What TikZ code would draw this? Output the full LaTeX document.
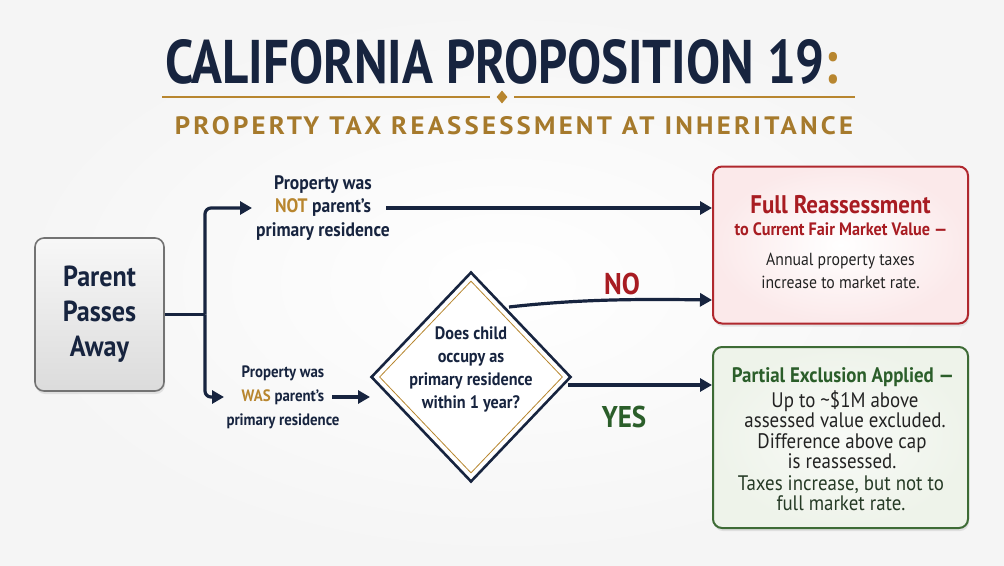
\documentclass[tikz,border=0pt]{standalone}
\usepackage{fontspec}
\setmainfont{PT Sans}[FakeStretch=0.9]
\newfontfamily\titlefont{PT Sans}
\usetikzlibrary{arrows.meta,shapes.geometric,shadows}
\definecolor{navy}{HTML}{17243F}
\definecolor{gold}{HTML}{B8862F}
\definecolor{goldtxt}{HTML}{A67A2C}
\definecolor{redb}{HTML}{B0282E}
\definecolor{redt}{HTML}{A81C22}
\definecolor{redfill}{HTML}{FBE9EA}
\definecolor{grnb}{HTML}{3D6B35}
\definecolor{grnt}{HTML}{2B5E2A}
\definecolor{grnfill}{HTML}{EEF3EA}
\definecolor{bodytxt}{HTML}{222222}
\tikzset{
  arr/.style={draw=navy, line width=3.2pt, -{Triangle[length=12pt,width=13pt]}},
  ln/.style={draw=navy, line width=3.2pt},
  txt/.style={inner sep=0pt, align=center, text=navy, font=\bfseries\fontsize{19.5}{23.5}\selectfont},
  card/.style={rounded corners=9pt, line width=2pt, drop shadow={opacity=0.18, shadow xshift=1pt, shadow yshift=-3pt}},
}
\begin{document}
\begin{tikzpicture}[x=1pt,y=-1pt]
\useasboundingbox (0,0) rectangle (1004,565);
\fill[inner color=white, outer color=black!4] (0,0) rectangle (1004,565);

% title
\node[inner sep=0pt] (title) at (502,62) {\resizebox{673pt}{44pt}{\titlefont\bfseries\color{navy}CALIFORNIA PROPOSITION 19\textcolor{gold}{:}}};
\draw[gold, line width=1.3pt] (162,97) -- (490,97) (514,97) -- (855,97);
\node[diamond, fill=gold, inner sep=0pt, minimum width=11pt, minimum height=13pt] (gem) at (502,97) {};
\node[inner sep=0pt] (subtitle) at (514,126) {\resizebox{678pt}{18pt}{\titlefont\bfseries\addfontfeatures{LetterSpace=12}\color{goldtxt}PROPERTY TAX REASSESSMENT AT INHERITANCE}};

% start box
\node[card, draw=black!55, line width=1.6pt, top color=black!3, bottom color=black!14, minimum width=129pt, minimum height=153pt,
      align=center, text=navy, font=\bfseries\fontsize{29}{35}\selectfont] (pp) at (99.5,314.5) {Parent\\Passes\\Away};

% branch texts
\node[txt] (nottext) at (323,208) {Property was\\\textcolor{gold}{NOT} parent’s\\primary residence};
\node[txt, font=\bfseries\fontsize{16.5}{24}\selectfont] (wastext) at (283,397) {Property was\\\textcolor{gold}{WAS} parent’s\\primary residence};

\coordinate (bj) at (205,314.5);
\coordinate (toptip) at (252,208);
\coordinate (bottip) at (224,397);
\coordinate (topstart) at (386,208);
\coordinate (wasstart) at (332,397);
\coordinate (wastip) at (370,397);

% result boxes
\node[card, draw=redb, inner color=white, outer color=redfill, minimum width=255pt, minimum height=157pt] (full) at (840.5,245) {};
\node[card, draw=grnb, inner color=white!60!grnfill, outer color=grnfill, minimum width=255pt, minimum height=181pt] (part) at (840.5,437.5) {};

% connectors
\draw[ln] (pp.east) -- (bj);
\draw[arr, rounded corners=6pt] (bj) |- (toptip);
\draw[arr, rounded corners=6pt] (bj) |- (bottip);
\draw[arr] (topstart) -- (full.west |- topstart);
\draw[arr] (wasstart) -- (wastip);

% diamond
\node[diamond, draw=navy, line width=2.6pt, fill=white, minimum width=200pt, minimum height=210pt, inner sep=0pt] (dia) at (471,377) {};
\node[diamond, draw=gold, line width=0.8pt, minimum width=183pt, minimum height=192pt, inner sep=0pt] (diain) at (471,377) {};
\node[txt, font=\bfseries\fontsize{18}{23}\selectfont] (q) at (471,369) {Does child\\occupy as\\primary residence\\within 1 year?};

\coordinate (nostart) at (509,307);
\coordinate (yesstart) at (568,385);
\draw[arr] (nostart) .. controls (580,299) and (640,299) .. (full.west |- 0,300);
\draw[arr] (yesstart) -- (part.west |- yesstart);
\node[inner sep=0pt, text=redt, font=\bfseries\fontsize{30}{32}\selectfont] (no) at (622,284) {NO};
\node[inner sep=0pt, text=grnt, font=\bfseries\fontsize{30}{32}\selectfont] (yes) at (624,417) {YES};

% red box text
\node[inner sep=0pt, text=redt, font=\bfseries\fontsize{25.5}{27}\selectfont] (f1) at (840.5,205) {Full Reassessment};
\node[inner sep=0pt, text=redt, font=\bfseries\fontsize{18}{20}\selectfont] (f2) at (841,229) {to Current Fair Market Value —};
\node[inner sep=0pt, align=center, text=bodytxt, font=\fontsize{17.5}{23}\selectfont] (f3) at (840.5,271) {Annual property taxes\\increase to market rate.};

% green box text
\node[inner sep=0pt, text=grnt, font=\bfseries\fontsize{21}{22}\selectfont] (p1) at (843,377) {Partial Exclusion Applied —};
\node[inner sep=0pt, align=center, text=bodytxt, font=\fontsize{21}{20}\selectfont] (p2) at (845,409) {Up to \textasciitilde\$1M above\\assessed value excluded.};
\node[inner sep=0pt, align=center, text=bodytxt, font=\fontsize{21}{20}\selectfont] (p3) at (842,451) {Difference above cap\\is reassessed.};
\node[inner sep=0pt, align=center, text=grnt!40!bodytxt, font=\fontsize{21}{20}\selectfont] (p4) at (841,493) {Taxes increase, but not to\\full market rate.};
\end{tikzpicture}
\end{document}
